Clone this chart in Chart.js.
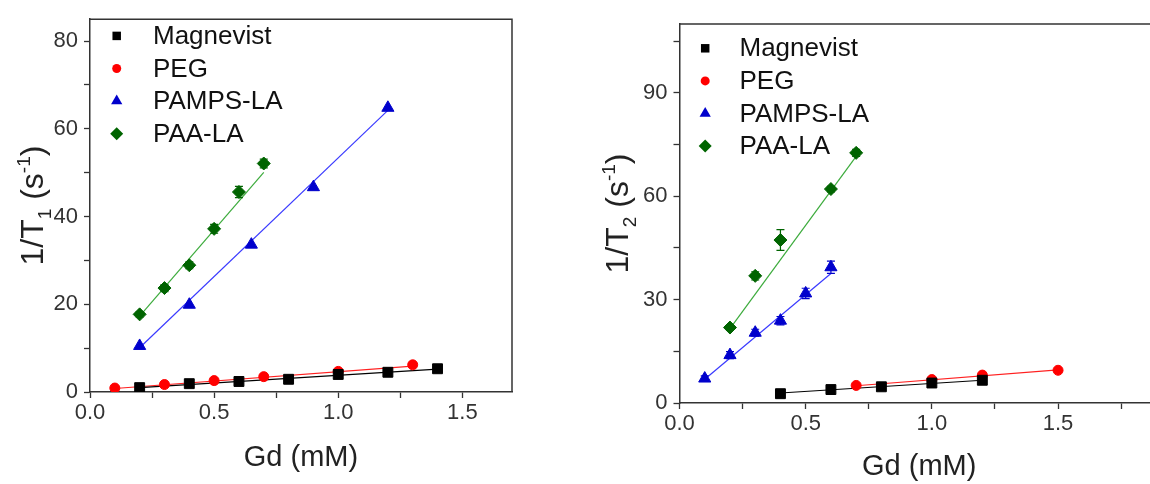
<!DOCTYPE html>
<html>
<head>
<meta charset="utf-8">
<script src="https://cdn.jsdelivr.net/npm/chart.js@4.4.1/dist/chart.umd.min.js"></script>
<style>
    body { margin: 0; background: #fff; width: 1150px; height: 484px; overflow: hidden; position: relative; }
    #wrapT1 { position: absolute; left: 0; top: 0; width: 580px; height: 484px; }
    #wrapT2 { position: absolute; left: 580px; top: 0; width: 600px; height: 484px; }
</style>
</head>
<body>
<div id="wrapT1"><canvas id="chartT1" width="580" height="484"></canvas></div>
<div id="wrapT2"><canvas id="chartT2" width="600" height="484"></canvas></div>
<script>
// ---- data ----
const seriesNames = ['Magnevist', 'PEG', 'PAMPS-LA', 'PAA-LA'];

// 1/T1 panel
const t1MagX = [0.2, 0.4, 0.6, 0.8, 1.0, 1.2, 1.4];
const t1MagY = [1.0, 1.9, 2.4, 2.9, 4.0, 4.5, 5.3];
const t1PegX = [0.1, 0.3, 0.5, 0.7, 1.0, 1.3];
const t1PegY = [0.9, 1.7, 2.6, 3.5, 4.7, 6.2];
const t1PampsX = [0.2, 0.4, 0.65, 0.9, 1.2];
const t1PampsY = [10.5, 19.9, 33.6, 46.7, 64.8];
const t1PaaX = [0.2, 0.3, 0.4, 0.5, 0.6, 0.7];
const t1PaaY = [17.7, 23.7, 28.9, 37.2, 45.6, 52.1];
const t1PaaErr = [0.6, 0.8, 0.8, 1.0, 1.3, 1.0];

// fitted lines, end points
const t1MagFitX = [0.2, 1.4], t1MagFitY = [1.0, 5.2];
const t1PegFitX = [0.1, 1.3], t1PegFitY = [0.8, 5.9];
const t1PampsFitX = [0.2, 1.2], t1PampsFitY = [10.1, 64.2];
const t1PaaFitX = [0.2, 0.7], t1PaaFitY = [17.3, 50.1];

// 1/T2 panel
const t2MagX = [0.4, 0.6, 0.8, 1.0, 1.2];
const t2MagY = [2.7, 3.9, 4.7, 5.8, 6.6];
const t2PegX = [0.7, 1.0, 1.2, 1.5];
const t2PegY = [5.1, 6.8, 8.1, 9.5];
const t2PampsX = [0.1, 0.2, 0.3, 0.4, 0.5, 0.6];
const t2PampsY = [7.1, 13.9, 20.4, 23.9, 31.8, 39.4];
const t2PampsErr = [0.8, 1.0, 1.0, 1.2, 1.5, 1.8];
const t2PaaX = [0.2, 0.3, 0.4, 0.6, 0.7];
const t2PaaY = [21.9, 36.9, 47.3, 62.1, 72.6];
const t2PaaErr = [0.8, 1.2, 3.0, 0.8, 1.0];

const t2MagFitX = [0.4, 1.2], t2MagFitY = [2.9, 6.6];
const t2PegFitX = [0.7, 1.5], t2PegFitY = [5.0, 9.6];
const t2PampsFitX = [0.1, 0.6], t2PampsFitY = [6.9, 37.6];
const t2PaaFitX = [0.2, 0.7], t2PaaFitY = [21.6, 71.6];

// ticks
const xTicks = [0, 0.25, 0.5, 0.75, 1.0, 1.25, 1.5, 1.75];
const xTickLabels = ['0.0', '', '0.5', '', '1.0', '', '1.5', ''];
const t1YTicks = [0, 10, 20, 30, 40, 50, 60, 70, 80];
const t1YTickLabels = ['0', '', '20', '', '40', '', '60', '', '80'];
const t2YTicks = [0, 15, 30, 45, 60, 75, 90, 105];
const t2YTickLabels = ['0', '', '30', '', '60', '', '90', ''];

// ---- styles ----
const FONT = '"Liberation Sans", Arial, sans-serif';
const markerColors = ['#000000', '#ff0000', '#0000cc', '#006400'];
const lineColors = ['#000000', '#ff2020', '#3a3aff', '#3cab3c'];
const markerStyles = ['rect', 'circle', 'triangle', 'rectRot'];
const markerRadius = [7, 5, 7, 6.5];

function toPoints(xs, ys) {
    return xs.map((x, i) => ({ x: x, y: ys[i] }));
}

function buildDatasets(points, fits, errors) {
    const sets = [];
    fits.forEach((f, i) => {
        sets.push({
            data: toPoints(f[0], f[1]),
            showLine: true,
            borderColor: lineColors[i],
            borderWidth: 1.2,
            pointRadius: 0,
            order: 2
        });
    });
    points.forEach((p, i) => {
        sets.push({
            label: seriesNames[i],
            data: toPoints(p[0], p[1]),
            showLine: false,
            pointStyle: markerStyles[i],
            pointRadius: markerRadius[i],
            backgroundColor: markerColors[i],
            borderColor: markerColors[i],
            borderWidth: 1,
            errorBars: errors[i] || null,
            order: 1
        });
    });
    return sets;
}

// error bars plugin
const errorBarPlugin = {
    id: 'errorBars',
    afterDatasetsDraw(chart) {
        const ctx = chart.ctx;
        const xs = chart.scales.x, ys = chart.scales.y;
        chart.data.datasets.forEach(ds => {
            if (!ds.errorBars) return;
            ctx.save();
            ctx.strokeStyle = ds.borderColor;
            ctx.lineWidth = 1.2;
            ds.data.forEach((p, i) => {
                const e = ds.errorBars[i];
                if (!e) return;
                const px = xs.getPixelForValue(p.x);
                const top = ys.getPixelForValue(p.y + e);
                const bot = ys.getPixelForValue(p.y - e);
                ctx.beginPath();
                ctx.moveTo(px, top); ctx.lineTo(px, bot);
                ctx.moveTo(px - 4, top); ctx.lineTo(px + 4, top);
                ctx.moveTo(px - 4, bot); ctx.lineTo(px + 4, bot);
                ctx.stroke();
            });
            ctx.restore();
        });
    }
};

// frame, legend and y title
function drawMarker(ctx, style, x, y, r, color) {
    ctx.fillStyle = color;
    ctx.beginPath();
    if (style === 'rect') {
        const s = r * Math.SQRT1_2;
        ctx.rect(x - s, y - s, 2 * s, 2 * s);
    } else if (style === 'circle') {
        ctx.arc(x, y, r, 0, Math.PI * 2);
    } else if (style === 'triangle') {
        ctx.moveTo(x, y - r);
        ctx.lineTo(x + r * 0.866, y + r * 0.5);
        ctx.lineTo(x - r * 0.866, y + r * 0.5);
        ctx.closePath();
    } else {
        ctx.moveTo(x, y - r);
        ctx.lineTo(x + r, y);
        ctx.lineTo(x, y + r);
        ctx.lineTo(x - r, y);
        ctx.closePath();
    }
    ctx.fill();
}

const panelPlugin = {
    id: 'panel',
    afterDraw(chart, args, opts) {
        const ctx = chart.ctx;
        const a = chart.chartArea;
        ctx.save();
        // top and right frame
        ctx.strokeStyle = '#333';
        ctx.lineWidth = 1.5;
        ctx.beginPath();
        ctx.moveTo(a.left, a.top);
        ctx.lineTo(a.right, a.top);
        ctx.lineTo(a.right, a.bottom);
        ctx.stroke();

        // legend
        ctx.font = '26px ' + FONT;
        ctx.textBaseline = 'middle';
        ctx.textAlign = 'left';
        seriesNames.forEach((name, i) => {
            const y = a.top + opts.legendTop + i * 32.6;
            drawMarker(ctx, markerStyles[i], a.left + opts.markerX, y, [6, 4.5, 6.5, 6.5][i], markerColors[i]);
            ctx.fillStyle = '#111';
            ctx.fillText(name, a.left + opts.textX, y + 1);
        });

        // y title with subscript and superscript
        const big = '32px ' + FONT, small = '19px ' + FONT;
        const parts = [
            ['1/T', big, 0], [opts.sub, small, 8], [' (s', big, 0], ['-1', small, -13], [')', big, 0]
        ];
        let total = 0;
        parts.forEach(p => { ctx.font = p[1]; total += ctx.measureText(p[0]).width; });
        ctx.translate(opts.titleX, (a.top + a.bottom) / 2);
        ctx.rotate(-Math.PI / 2);
        ctx.fillStyle = '#222';
        ctx.textBaseline = 'alphabetic';
        let cx = -total / 2;
        parts.forEach(p => {
            ctx.font = p[1];
            ctx.fillText(p[0], cx, 11 + p[2]);
            cx += ctx.measureText(p[0]).width;
        });
        ctx.restore();
    }
};

function makeChart(id, cfg) {
    const ctx = document.getElementById(id);
    return new Chart(ctx.getContext('2d'), {
        type: 'scatter',
        data: { datasets: buildDatasets(cfg.points, cfg.fits, cfg.errors) },
        options: {
            responsive: false,
            animation: false,
            events: [],
            layout: { padding: cfg.padding },
            plugins: {
                legend: { display: false },
                tooltip: { enabled: false },
                panel: cfg.panel
            },
            scales: {
                x: {
                    type: 'linear',
                    min: 0,
                    max: cfg.xMax,
                    afterBuildTicks: s => { s.ticks = xTicks.filter(v => v <= cfg.xMax).map(v => ({ value: v })); },
                    afterFit: s => { s.height = cfg.xHeight; },
                    ticks: {
                        callback: v => xTickLabels[xTicks.indexOf(v)] || '',
                        font: { size: 22, family: FONT },
                        color: '#333',
                        padding: 2,
                        maxRotation: 0,
                        autoSkip: false
                    },
                    grid: { drawOnChartArea: false, tickLength: 6, color: '#333', tickWidth: 1.3 },
                    border: { color: '#333', width: 1.5 },
                    title: {
                        display: true,
                        text: 'Gd (mM)',
                        font: { size: 29, family: FONT },
                        color: '#222',
                        padding: { top: 0, bottom: cfg.xTitlePad }
                    }
                },
                y: {
                    type: 'linear',
                    min: 0,
                    max: cfg.yMax,
                    afterBuildTicks: s => { s.ticks = cfg.yTicks.map(v => ({ value: v })); },
                    afterFit: s => { s.width = cfg.yWidth; },
                    ticks: {
                        callback: v => cfg.yTickLabels[cfg.yTicks.indexOf(v)] || '',
                        font: { size: 22, family: FONT },
                        color: '#333',
                        padding: 6,
                        autoSkip: false
                    },
                    grid: { drawOnChartArea: false, tickLength: 6, color: '#333', tickWidth: 1.3 },
                    border: { color: '#333', width: 1.5 }
                }
            }
        },
        plugins: [errorBarPlugin, panelPlugin]
    });
}

document.addEventListener('DOMContentLoaded', () => {
    makeChart('chartT1', {
        points: [[t1MagX, t1MagY], [t1PegX, t1PegY], [t1PampsX, t1PampsY], [t1PaaX, t1PaaY]],
        fits: [[t1MagFitX, t1MagFitY], [t1PegFitX, t1PegFitY], [t1PampsFitX, t1PampsFitY], [t1PaaFitX, t1PaaFitY]],
        errors: [null, null, null, t1PaaErr],
        padding: { left: 0, top: 15, right: 68, bottom: 0 },
        xMax: 1.7,
        yMax: 85,
        yTicks: t1YTicks,
        yTickLabels: t1YTickLabels,
        xHeight: 92,
        yWidth: 90,
        xTitlePad: 9,
        panel: { legendTop: 16.7, markerX: 26.7, textX: 63, titleX: 32, sub: '1' }
    });

    makeChart('chartT2', {
        points: [[t2MagX, t2MagY], [t2PegX, t2PegY], [t2PampsX, t2PampsY], [t2PaaX, t2PaaY]],
        fits: [[t2MagFitX, t2MagFitY], [t2PegFitX, t2PegFitY], [t2PampsFitX, t2PampsFitY], [t2PaaFitX, t2PaaFitY]],
        errors: [null, null, t2PampsErr, t2PaaErr],
        padding: { left: 0, top: 24, right: 21, bottom: 0 },
        xMax: 1.9,
        yMax: 110,
        yTicks: t2YTicks,
        yTickLabels: t2YTickLabels,
        xHeight: 81,
        yWidth: 99.5,
        xTitlePad: 0,
        panel: { legendTop: 24.3, markerX: 25.7, textX: 60, titleX: 37, sub: '2' }
    });
});
</script>
</body>
</html>
